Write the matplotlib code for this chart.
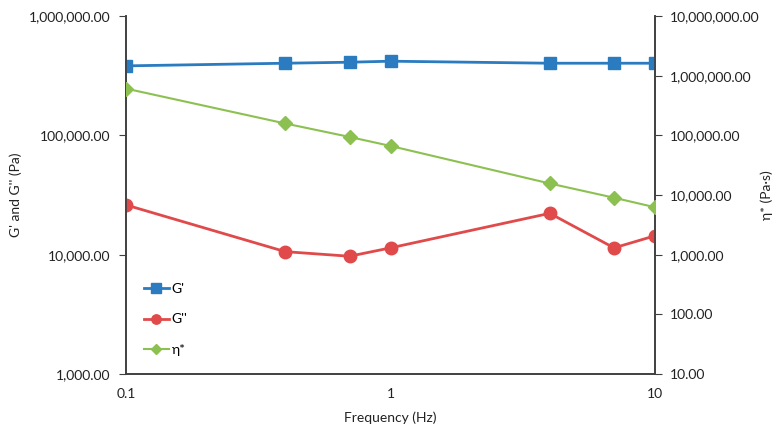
import numpy as np
import matplotlib
matplotlib.use('Agg')
import matplotlib.pyplot as plt
from matplotlib.ticker import FuncFormatter, FixedLocator, NullLocator

# Data
freq = [0.1, 0.4, 0.7, 1, 4, 7, 10]
g_storage = [382000, 402000, 410000, 418000, 402000, 402000, 402000]
g_loss = [26100, 10600, 9700, 11400, 22200, 11400, 14400]
eta = [607000, 158000, 94000, 66400, 15600, 9000, 6230]

x_ticks = [0.1, 1, 10]
x_tick_labels = ['0.1', '1', '10']
left_ticks = [1e3, 1e4, 1e5, 1e6]
right_ticks = [1e1, 1e2, 1e3, 1e4, 1e5, 1e6, 1e7]

BLUE = '#2a7bc0'
RED = '#e04a4a'
GREEN = '#8cc152'
AXIS = '#404040'

plt.rcParams['font.family'] = ['Lato', 'DejaVu Sans']
plt.rcParams['font.size'] = 10

fig = plt.figure(figsize=(7.8, 4.34), dpi=100)
ax = fig.add_axes([126/780, 1-374/434, (655-126)/780, (374-16)/434])
ax2 = ax.twinx()

fmt = FuncFormatter(lambda v, p: '{:,.2f}'.format(v))

l1, = ax.plot(freq, g_storage, color=BLUE, lw=2, marker='s', ms=9, label="G'", zorder=3)
l2, = ax.plot(freq, g_loss, color=RED, lw=2, marker='o', ms=9, label="G''", zorder=3)
l3, = ax2.plot(freq, eta, color=GREEN, lw=1.5, marker='D', ms=7, label='η*', zorder=3)

ax.set_xscale('log')
ax.set_yscale('log')
ax2.set_yscale('log')
ax.set_xlim(0.1, 10)
ax.set_ylim(1e3, 1e6)
ax2.set_ylim(1e1, 1e7)

ax.xaxis.set_major_locator(FixedLocator(x_ticks))
ax.set_xticklabels(x_tick_labels)
ax.xaxis.set_minor_locator(NullLocator())
ax.yaxis.set_major_locator(FixedLocator(left_ticks))
ax.yaxis.set_minor_locator(NullLocator())
ax.yaxis.set_major_formatter(fmt)
ax2.yaxis.set_major_locator(FixedLocator(right_ticks))
ax2.yaxis.set_minor_locator(NullLocator())
ax2.yaxis.set_major_formatter(fmt)

for a in (ax, ax2):
    a.spines['top'].set_visible(False)
    for s in ('left', 'right', 'bottom'):
        a.spines[s].set_color(AXIS)
        a.spines[s].set_linewidth(1.2)
    a.tick_params(axis='y', length=5, color=AXIS, labelcolor='#222222', pad=6)
ax.tick_params(axis='x', length=0, labelcolor='#222222', pad=10)

ax.set_xlabel('Frequency (Hz)', color='#222222', labelpad=8)
ax.set_ylabel("G' and G'' (Pa)", color='#222222')
ax.yaxis.set_label_coords(-0.197, 0.5)
ax2.set_ylabel('η* (Pa·s)', color='#222222', rotation=90)
ax2.yaxis.set_label_coords(1.2, 0.5)

leg = ax.legend([l1, l2, l3], ["G'", "G''", 'η*'], loc='lower left',
                bbox_to_anchor=(0.01, 0.015), frameon=False, handlelength=1.8,
                handletextpad=0.2, labelspacing=1.35, markerscale=0.75)

fig.savefig('out.png', dpi=100)
